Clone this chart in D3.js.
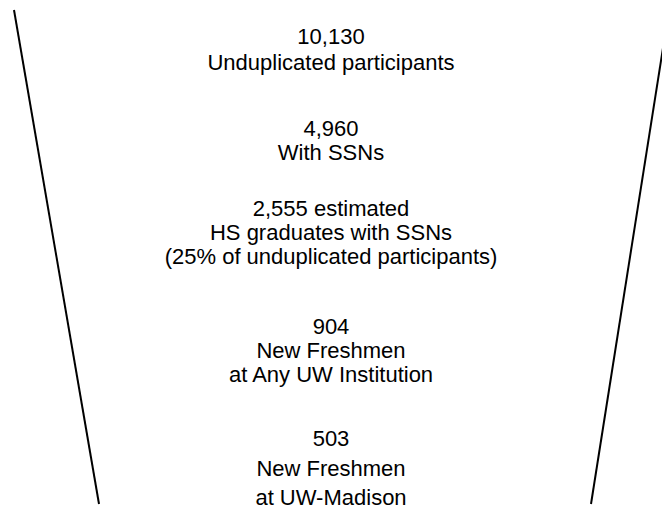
<!DOCTYPE html>
<html>
<head>
<meta charset="utf-8">
<script src="https://cdn.jsdelivr.net/npm/d3@7"></script>
<style>
  body { margin: 0; background: #fff; }
</style>
</head>
<body>
<script>
// funnel stages, top to bottom
const counts = [10130, 4960, 2555, 904, 503];
const countSuffix = ["", "", " estimated", "", ""];
const stageLabels = [
  ["Unduplicated participants"],
  ["With SSNs"],
  ["HS graduates with SSNs", "(25% of unduplicated participants)"],
  ["New Freshmen", "at Any UW Institution"],
  ["New Freshmen", "at UW-Madison"]
];

function main(){
  const width = 662;
  const height = 511;

  const svg = d3.select("body").append("svg")
    .attr("width", width)
    .attr("height", height);

  // funnel walls
  const y = d3.scaleLinear().domain([0, 1]).range([10, 504]);
  const leftX = d3.scaleLinear().domain([0, 1]).range([14, 99]);
  const rightX = d3.scaleLinear().domain([0, 1]).range([669, 591]);

  const walls = [
    [[leftX(0), y(0)], [leftX(1), y(1)]],
    [[rightX(0), y(0)], [rightX(1), y(1)]]
  ];
  svg.selectAll("line.wall")
    .data(walls)
    .enter()
    .append("line")
    .attr("class", "wall")
    .attr("x1", d => d[0][0])
    .attr("y1", d => d[0][1])
    .attr("x2", d => d[1][0])
    .attr("y2", d => d[1][1])
    .style("stroke", "#000")
    .style("stroke-width", 2);

  const fmt = d3.format(",");
  const stages = counts.map((c, i) => ({
    lines: [fmt(c) + countSuffix[i]].concat(stageLabels[i])
  }));

  // baseline of the first line of each stage, and line spacing
  const stageTop = [44, 136, 216, 334, 446];
  const lineGap = [26, 24, 24, 24, 29.5];

  const g = svg.selectAll("g.stage")
    .data(stages)
    .enter()
    .append("g")
    .attr("class", "stage")
    .attr("transform", (d, i) => "translate(" + (width / 2) + "," + stageTop[i] + ")");

  g.selectAll("text")
    .data((d, i) => d.lines.map(t => ({t: t, gap: lineGap[i]})))
    .enter()
    .append("text")
    .attr("x", 0)
    .attr("y", (d, j) => j * d.gap)
    .style("text-anchor", "middle")
    .style("font-size", "22px")
    .style("font-family", "'Liberation Sans', Arial, sans-serif")
    .style("fill", "#000")
    .text(d => d.t);
}

main();
</script>
</body>
</html>
